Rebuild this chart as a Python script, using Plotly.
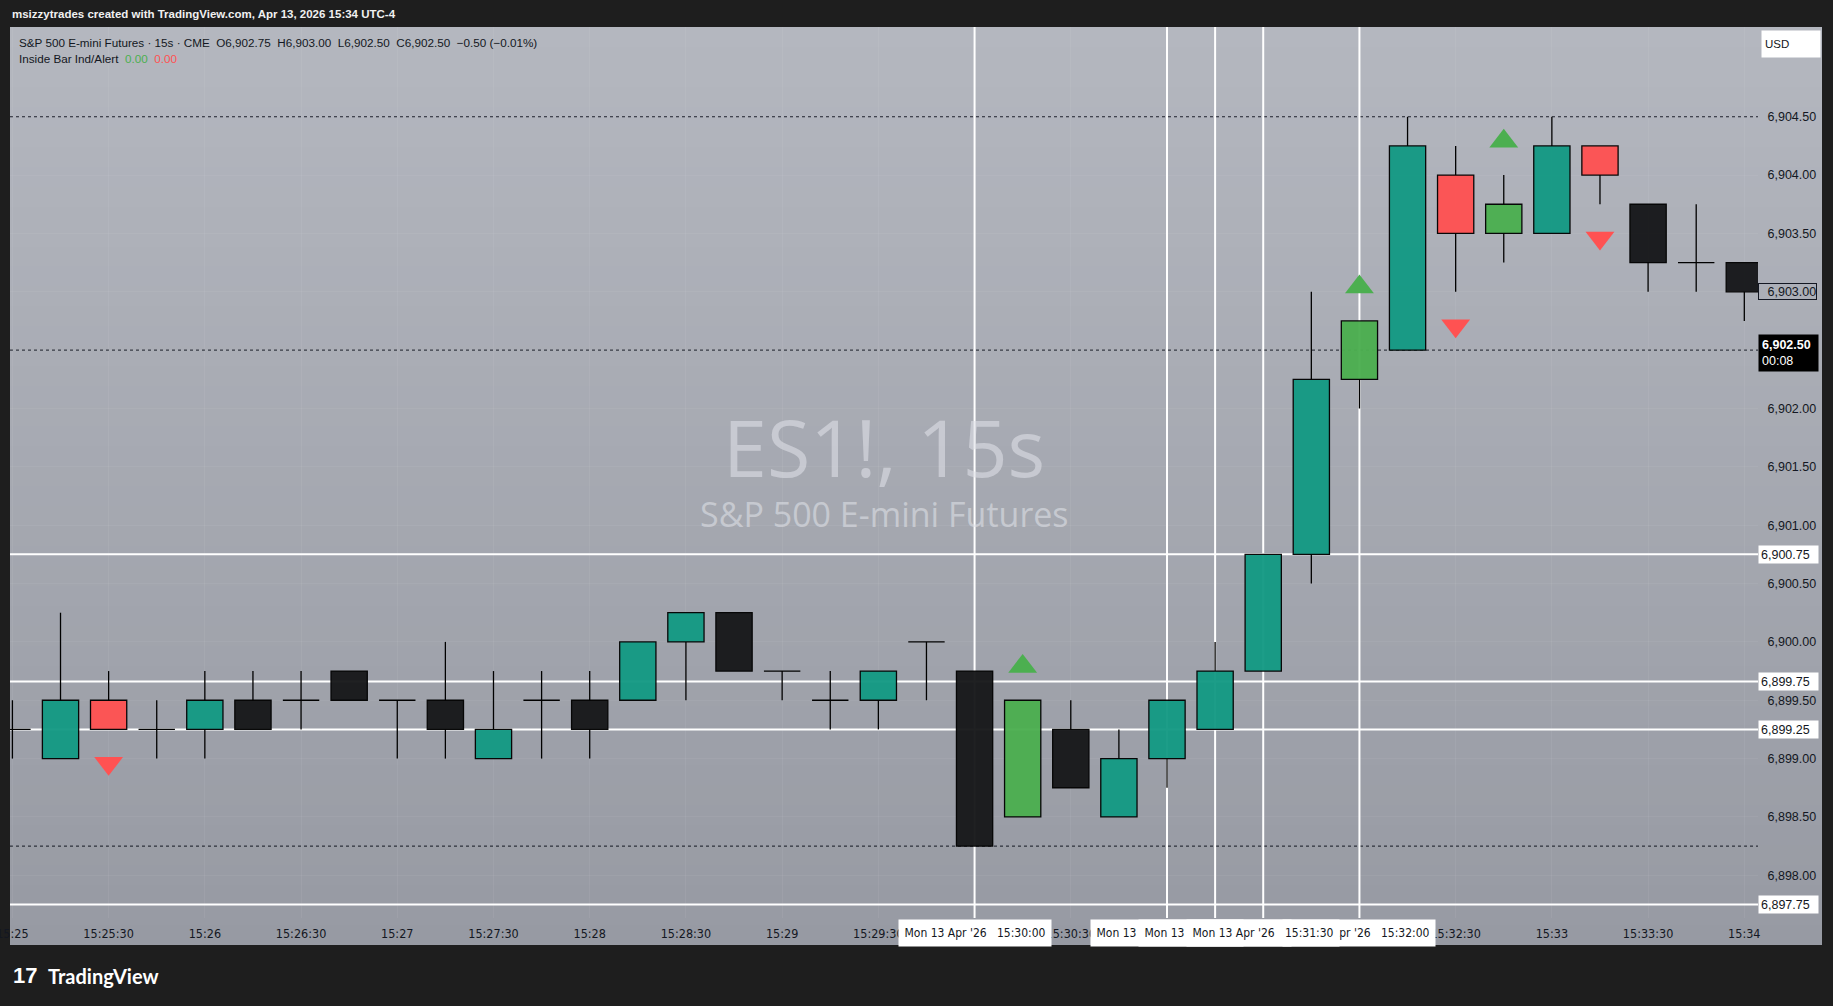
import plotly.graph_objects as go

# ES1! 15-second bars, Mon 13 Apr 2026
bar_clock = [
    "15:25:00", "15:25:15", "15:25:30", "15:25:45", "15:26:00", "15:26:15", "15:26:30", "15:26:45",
    "15:27:00", "15:27:15", "15:27:30", "15:27:45", "15:28:00", "15:28:15", "15:28:30", "15:28:45",
    "15:29:00", "15:29:15", "15:29:30", "15:29:45", "15:30:00", "15:30:15", "15:30:30", "15:30:45",
    "15:31:00", "15:31:15", "15:31:30", "15:31:45", "15:32:00", "15:32:15", "15:32:30", "15:32:45",
    "15:33:00", "15:33:15", "15:33:30", "15:33:45", "15:34:00",
]
opens = [
    6899.25, 6899.00, 6899.50, 6899.25, 6899.25, 6899.50, 6899.50, 6899.75,
    6899.50, 6899.50, 6899.00, 6899.50, 6899.50, 6899.50, 6900.00, 6900.25,
    6899.75, 6899.50, 6899.50, 6900.00, 6899.75, 6898.50, 6899.25, 6898.50,
    6899.00, 6899.25, 6899.75, 6900.75, 6902.25, 6902.50, 6904.00, 6903.50,
    6903.50, 6904.25, 6903.75, 6903.25, 6903.25,
]
highs = [
    6899.50, 6900.25, 6899.75, 6899.50, 6899.75, 6899.75, 6899.75, 6899.75,
    6899.50, 6900.00, 6899.75, 6899.75, 6899.75, 6900.00, 6900.25, 6900.25,
    6899.75, 6899.75, 6899.75, 6900.00, 6899.75, 6899.50, 6899.50, 6899.25,
    6899.50, 6900.00, 6900.75, 6903.00, 6902.75, 6904.50, 6904.25, 6904.00,
    6904.50, 6904.25, 6903.75, 6903.75, 6903.25,
]
lows = [
    6899.00, 6899.00, 6899.25, 6899.00, 6899.00, 6899.25, 6899.25, 6899.50,
    6899.00, 6899.00, 6899.00, 6899.00, 6899.00, 6899.50, 6899.50, 6899.75,
    6899.50, 6899.25, 6899.25, 6899.50, 6898.25, 6898.50, 6898.75, 6898.50,
    6898.75, 6899.25, 6899.75, 6900.50, 6902.00, 6902.50, 6903.00, 6903.25,
    6903.50, 6903.75, 6903.00, 6903.00, 6902.75,
]
closes = [
    6899.25, 6899.50, 6899.25, 6899.25, 6899.50, 6899.25, 6899.50, 6899.50,
    6899.50, 6899.25, 6899.25, 6899.50, 6899.25, 6900.00, 6900.25, 6899.75,
    6899.75, 6899.50, 6899.75, 6900.00, 6898.25, 6899.50, 6898.75, 6899.00,
    6899.50, 6899.75, 6900.75, 6902.25, 6902.75, 6904.25, 6903.50, 6903.75,
    6904.25, 6904.00, 6903.25, 6903.25, 6903.00,
]
fills = [
    "black", "teal", "red", "black", "teal", "black", "black", "black",
    "black", "black", "teal", "black", "black", "teal", "teal", "black",
    "black", "black", "teal", "black", "black", "green", "black", "teal",
    "teal", "teal", "teal", "teal", "green", "teal", "red", "green",
    "teal", "red", "black", "black", "black",
]
# Inside Bar Ind/Alert signals
signals = [
    "", "", "down", "", "", "", "", "",
    "", "", "", "", "", "", "", "",
    "", "", "", "", "", "up", "", "",
    "", "", "", "", "up", "", "down", "up",
    "", "down", "", "", "",
]

tick_clock = [
    "15:25:00", "15:25:30", "15:26:00", "15:26:30", "15:27:00", "15:27:30", "15:28:00", "15:28:30",
    "15:29:00", "15:29:30", "15:30:00", "15:30:30", "15:31:00", "15:31:30", "15:32:00", "15:32:30",
    "15:33:00", "15:33:30", "15:34:00",
]
tick_labels = [
    "15:25", "15:25:30", "15:26", "15:26:30", "15:27", "15:27:30", "15:28", "15:28:30",
    "15:29", "15:29:30", "15:30", "15:30:30", "15:31", "15:31:30", "15:32", "15:32:30",
    "15:33", "15:33:30", "15:34",
]
price_ticks = [6898.0, 6898.5, 6899.0, 6899.5, 6900.0, 6900.5, 6901.0,
               6901.5, 6902.0, 6902.5, 6903.0, 6903.5, 6904.0, 6904.5]

white_levels = [6900.75, 6899.66, 6899.25, 6897.75]
white_labels = ["6,900.75", "6,899.75", "6,899.25", "6,897.75"]
dotted_levels = [6904.50, 6902.50, 6898.25]
# vertical lines, in label stacking order
vline_clock = ["15:30:00", "15:31:00", "15:31:15", "15:32:00", "15:31:30"]

DAY = "2026-04-13 "
times = [DAY + t for t in bar_clock]

COLORS = {"teal": "#149a84", "black": "#17181a", "green": "#4caf50", "red": "#ff5252"}
INK = "#131722"
FONT = "Liberation Sans, Arial, sans-serif"
NARROW = "Liberation Sans Narrow, DejaVu Sans Condensed, Liberation Sans, sans-serif"

# figure geometry (px)
W, H = 1833, 1006
L, R, T, B = 10, 75, 27, 88
PW, PH = W - L - R, H - T - B


def px(x):
    return (x - L) / PW


def py(y):
    return (H - B - y) / PH


# ---- build candle pieces ----
# wicks are split above / below the body, since bars sit under line traces
wick_x, wick_y = [], []
for t, o, hi, lo, c in zip(times, opens, highs, lows, closes):
    top, bot = max(o, c), min(o, c)
    if hi > top:
        wick_x += [t, t, None]
        wick_y += [top, hi, None]
    if lo < bot:
        wick_x += [t, t, None]
        wick_y += [lo, bot, None]

body_x, body_base, body_h, body_c = [], [], [], []
doji_x, doji_y = [], []
for t, o, c, f in zip(times, opens, closes, fills):
    if o == c:
        doji_x.append(t)
        doji_y.append(o)
    else:
        body_x.append(t)
        body_base.append(min(o, c))
        body_h.append(abs(c - o))
        body_c.append(COLORS[f])

up_x = [t for t, s in zip(times, signals) if s == "up"]
up_y = [hi + 0.29 for hi, s in zip(highs, signals) if s == "up"]
dn_x = [t for t, s in zip(times, signals) if s == "down"]
dn_y = [lo - 0.29 for lo, s in zip(lows, signals) if s == "down"]

fig = go.Figure()
fig.add_trace(go.Bar(x=body_x, y=body_h, base=body_base, width=11300,
                     marker=dict(color=body_c, line=dict(color="#000000", width=1.3)),
                     opacity=0.96))
fig.add_trace(go.Scatter(x=wick_x, y=wick_y, mode="lines",
                         line=dict(color="#000000", width=1.3), hoverinfo="skip"))
fig.add_trace(go.Scatter(x=doji_x, y=doji_y, mode="markers",
                         marker=dict(symbol="line-ew", size=26,
                                     line=dict(color="#000000", width=1.3))))
fig.add_trace(go.Scatter(x=up_x, y=up_y, mode="markers",
                         marker=dict(symbol="triangle-up", size=25, color="#4caf50",
                                     line=dict(width=0))))
fig.add_trace(go.Scatter(x=dn_x, y=dn_y, mode="markers",
                         marker=dict(symbol="triangle-down", size=25, color="#ff5252",
                                     line=dict(width=0))))

# ---- background: vertical gradient over the chart panel ----
shapes = []
top_rgb, bot_rgb = (180, 183, 191), (151, 154, 163)
y_top, y_bot = T, H - 61
n = 46
for i in range(n):
    f = i / (n - 1)
    col = "rgb(%d,%d,%d)" % tuple(round(a + (b - a) * f) for a, b in zip(top_rgb, bot_rgb))
    ya = round(y_top + (y_bot - y_top) * i / n)
    yb = min(y_bot, round(y_top + (y_bot - y_top) * (i + 1) / n) + 3)
    shapes.append(dict(type="rect", xref="paper", yref="paper", layer="below",
                       x0=px(10), x1=px(1822), y0=py(yb), y1=py(ya),
                       fillcolor=col, line=dict(width=0)))

for lv in dotted_levels:
    shapes.append(dict(type="line", xref="paper", yref="y", layer="below",
                       x0=0, x1=1, y0=lv, y1=lv, line=dict(color=INK, width=1, dash="dot")))
for lv in white_levels:
    shapes.append(dict(type="line", xref="paper", yref="y", layer="below",
                       x0=0, x1=1, y0=lv, y1=lv, line=dict(color="#ffffff", width=2)))
for vc in vline_clock:
    shapes.append(dict(type="line", xref="x", yref="paper", layer="below",
                       x0=DAY + vc, x1=DAY + vc, y0=0, y1=1,
                       line=dict(color="#ffffff", width=2)))

# ---- texts ----
ann = []
ann.append(dict(text="msizzytrades created with TradingView.com, Apr 13, 2026 15:34 UTC-4",
                xref="paper", yref="paper", x=px(10), y=py(14), xanchor="left", yanchor="middle",
                showarrow=False, font=dict(family=FONT, size=11.5, color="#f0f0f0", weight="bold")))
ann.append(dict(text="S&P 500 E-mini Futures · 15s · CME  O6,902.75  H6,903.00  L6,902.50  C6,902.50  −0.50 (−0.01%)",
                xref="paper", yref="paper", x=px(17), y=py(42), xanchor="left", yanchor="middle",
                showarrow=False, font=dict(family=FONT, size=11.7, color=INK)))
ann.append(dict(text="Inside Bar Ind/Alert  <span style='color:#4caf50'>0.00</span>  "
                     "<span style='color:#ff5252'>0.00</span>",
                xref="paper", yref="paper", x=px(17), y=py(59), xanchor="left", yanchor="middle",
                showarrow=False, font=dict(family=FONT, size=11.7, color=INK)))
ann.append(dict(text="ES1!, 15s", xref="paper", yref="paper", x=0.5, y=py(447),
                xanchor="center", yanchor="middle", showarrow=False,
                font=dict(family="Open Sans, " + FONT, size=79, color="rgba(222,224,230,0.6)")))
ann.append(dict(text="S&P 500 E-mini Futures", xref="paper", yref="paper", x=0.5, y=py(514),
                xanchor="center", yanchor="middle", showarrow=False,
                font=dict(family="Open Sans, " + FONT, size=34, color="rgba(222,224,230,0.6)")))
ann.append(dict(text="<b>TradingView</b>", xref="paper", yref="paper", x=px(46), y=py(976),
                xanchor="left", yanchor="middle", showarrow=False,
                font=dict(family="Lato, " + FONT, size=20, color="#ffffff")))
ann.append(dict(text="<b>17</b>", xref="paper", yref="paper", x=px(11), y=py(976),
                xanchor="left", yanchor="middle", showarrow=False,
                font=dict(family=FONT, size=22, color="#ffffff")))

# labels of the vertical lines on the time axis
for vc in vline_clock:
    ann.append(dict(text="Mon 13 Apr '26&nbsp;&nbsp;&nbsp;" + vc, x=DAY + vc, xref="x",
                    y=0, yref="paper", yanchor="top", xanchor="center", yshift=-1,
                    showarrow=False, bgcolor="#ffffff", borderpad=3, width=146, height=20,
                    font=dict(family=NARROW, size=12, color=INK)))

# labels on the price axis
for lv, lb in zip(white_levels, white_labels):
    ann.append(dict(text=lb, x=1, xref="paper", y=lv, yref="y", xanchor="left", yanchor="middle",
                    showarrow=False, bgcolor="#ffffff", borderpad=2, width=55, height=13,
                    align="left", font=dict(family=FONT, size=12.5, color=INK)))
# outline around the 6,903.00 tick (the tick text itself shows through)
ann.append(dict(text="6,903.00", x=1, xref="paper", y=6903.00, yref="y", xanchor="left",
                yanchor="middle", showarrow=False, bordercolor=INK, borderwidth=1, borderpad=1,
                width=55, height=13, align="left",
                font=dict(family=FONT, size=12.5, color="rgba(0,0,0,0)")))
ann.append(dict(text="<b>6,902.50</b><br>00:08", x=1, xref="paper", y=6902.50, yref="y",
                xanchor="left", yanchor="top", yshift=16, showarrow=False, bgcolor="#000000",
                borderpad=3, width=53, align="left",
                font=dict(family=FONT, size=12.5, color="#ffffff")))
ann.append(dict(text="USD", x=1, xref="paper", y=1, yref="paper", xanchor="left", yanchor="top",
                xshift=3, yshift=-3, showarrow=False, bgcolor="#ffffff", borderpad=3,
                width=52, height=20, align="left", font=dict(family=FONT, size=11.5, color=INK)))

fig.update_layout(
    width=W, height=H,
    margin=dict(l=L, r=R, t=T, b=B, autoexpand=False),
    paper_bgcolor="#1e1e1e",
    plot_bgcolor="rgba(0,0,0,0)",
    showlegend=False,
    shapes=shapes,
    annotations=ann,
    xaxis=dict(type="date", range=[DAY + "15:24:59.25", DAY + "15:34:04.27"],
               tickvals=[DAY + t for t in tick_clock], ticktext=tick_labels,
               showgrid=True, gridcolor="rgba(255,255,255,0.06)", gridwidth=1,
               zeroline=False, showline=False, ticks="outside", ticklen=4,
               tickcolor="rgba(0,0,0,0)", ticklabeloverflow="allow", automargin=False,
               tickfont=dict(family=NARROW, size=12.5, color=INK)),
    yaxis=dict(side="right", range=[6897.634, 6905.269], tickvals=price_ticks,
               tickformat=",.2f", showgrid=True, gridcolor="rgba(255,255,255,0.05)",
               zeroline=False, showline=False, ticks="outside", ticklen=6,
               tickcolor="rgba(0,0,0,0)", automargin=False,
               tickfont=dict(family=FONT, size=12.5, color=INK)),
)

fig.write_html("out.html", config={"displayModeBar": False},
               post_script="document.body.style.margin='0';"
                           "document.body.style.background='#1e1e1e';")
